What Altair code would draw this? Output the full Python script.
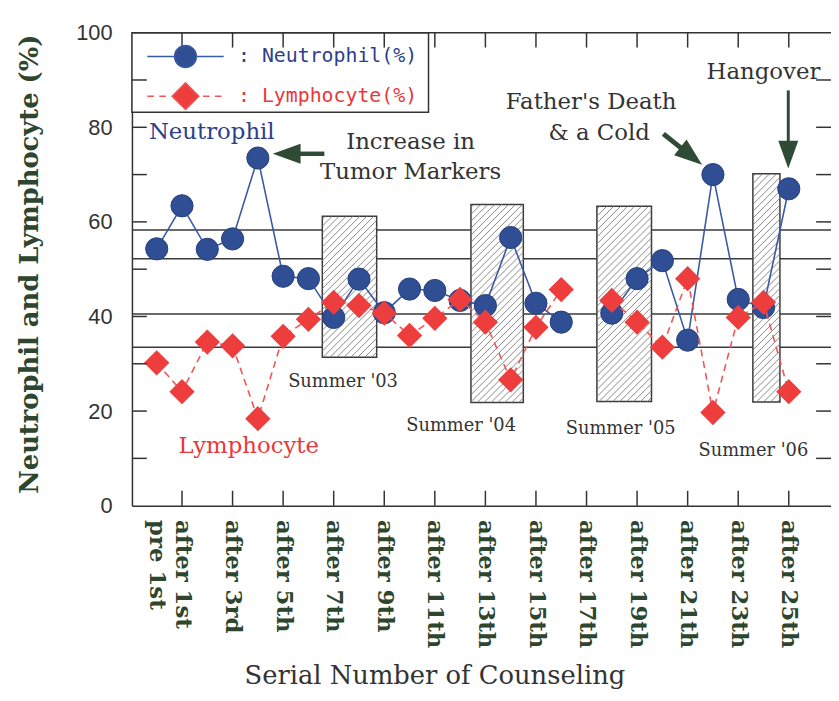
import math
import altair as alt
import pandas as pd

# ---------------- data ----------------
SESSION = list(range(26))
NEUTROPHIL = [54.3, 63.4, 54.2, 56.4, 73.5, 48.5, 48.0, 39.8, 47.9, 40.8, 45.8, 45.5, 43.4,
              42.3, 56.7, 42.8, 38.8, None, 40.7, 48.0, 51.8, 35.0, 70.0, 43.6, 41.9, 67.0]
LYMPHOCYTE = [30.2, 24.1, 34.6, 33.8, 18.4, 35.8, 39.4, 43.0, 42.3, 40.7, 36.0, 39.6, 43.6,
              38.8, 26.6, 37.7, 45.7, None, 43.4, 38.8, 33.5, 48.0, 19.7, 39.8, 43.0, 24.1]
SERIES = ["Neutrophil", "Lymphocyte"]

TICK_POS = [0, 1, 3, 5, 7, 9, 11, 13, 15, 17, 19, 21, 23, 25]
TICK_LABELS = ["pre 1st", "after 1st", "after 3rd", "after 5th", "after 7th", "after 9th",
               "after 11th", "after 13th", "after 15th", "after 17th", "after 19th",
               "after 21th", "after 23th", "after 25th"]
X_MINOR = [1, 3, 5, 7, 9, 11, 13, 15, 17, 19, 21, 23, 25]
Y_LABELS = [0, 20, 40, 60, 80, 100]
Y_MINOR = [10, 20, 30, 40, 50, 60, 70, 80, 90]
FRAME_TOP = [100]

REF_LINES = [58.3, 52.2, 40.5, 33.5]

SUMMER_START = [6.55, 12.43, 17.41, 23.58]
SUMMER_END = [8.70, 14.50, 19.57, 24.65]
SUMMER_LOW = [31.4, 21.8, 22.0, 21.9]
SUMMER_HIGH = [61.2, 63.7, 63.3, 70.2]
SUMMER_TEXT = ["Summer '03", "Summer '04", "Summer '05", "Summer '06"]
SUMMER_TEXT_X = [7.37, 12.04, 18.35, 23.6]
SUMMER_TEXT_Y = [26.2, 16.8, 16.1, 11.5]

SERIES_TEXT_X = [-0.31, 0.86]
SERIES_TEXT_Y = [79.0, 12.6]

NOTE_TEXT = ["Increase in", "Tumor Markers", "Father's Death", "& a Cold", "Hangover"]
NOTE_X = [10.04, 10.04, 17.18, 17.5, 24.0]
NOTE_Y = [76.9, 70.6, 85.3, 78.8, 91.6]

ARROW_TAIL_X = [6.63, 20.04, 24.98]
ARROW_TAIL_Y = [74.4, 78.6, 87.8]
ARROW_TIP_X = [4.59, 21.57, 24.98]
ARROW_TIP_Y = [74.4, 72.1, 71.3]
ARROW_WIDTH = [4.5, 5.0, 3.0]

LEGEND_BOX_X = [-0.98, 10.75]
LEGEND_BOX_Y = [83.2, 100]

# ---------------- layout / style ----------------
W, H = 705, 477
X_DOMAIN = [-0.98, 26.67]
XPX = W / (X_DOMAIN[1] - X_DOMAIN[0])
YPX = H / 100.0

BLUE = "#2f4e93"
BLUE_TXT = "#2c3f8c"
RED = "#ee3d3d"
GREEN = "#2d462d"
INK = "#333333"
ARROW_C = "#2f4a35"

xscale = alt.Scale(domain=X_DOMAIN, nice=False, zero=False)
yscale = alt.Scale(domain=[0, 100], nice=False, zero=False)

label_array = ["" for _ in SESSION]
for p, t in zip(TICK_POS, TICK_LABELS):
    label_array[p] = t
label_expr = "[" + ",".join("'" + t + "'" for t in label_array) + "][datum.value]"

x_axis = alt.Axis(values=TICK_POS, labelExpr=label_expr, ticks=False, tickSize=0, grid=False,
                  domainColor=INK, domainWidth=1.5, labelAngle=90, labelAlign="left",
                  labelBaseline="middle", labelPadding=14, labelFont="DejaVu Serif",
                  labelFontWeight="bold", labelFontSize=23, labelColor=GREEN,
                  labelOverlap=False, labelFlush=False, labelLimit=300,
                  title="Serial Number of Counseling", titleFont="DejaVu Serif",
                  titleFontWeight="normal", titleFontSize=26, titleColor=INK,
                  titleX=305, titleY=171, titleBaseline="middle", titleAlign="center")
y_axis = alt.Axis(values=Y_LABELS, ticks=False, tickSize=0, grid=False, domainColor=INK,
                  domainWidth=1.5, labelFont="Liberation Sans", labelFontSize=22,
                  labelColor=INK, labelPadding=20,
                  title="Neutrophil and Lymphocyte (%)", titleFont="DejaVu Serif",
                  titleFontWeight="bold", titleFontSize=26, titleColor=GREEN,
                  titleX=-103, titleY=233, titleBaseline="middle", titleAngle=270,
                  titleAlign="center", titleLimit=600)


def X(f, **kw):
    return alt.X(f, type="quantitative", scale=xscale, axis=x_axis, **kw)


def Y(f, **kw):
    return alt.Y(f, type="quantitative", scale=yscale, axis=y_axis, **kw)


series_df = pd.DataFrame({"session": SESSION, "neu": NEUTROPHIL, "lym": LYMPHOCYTE})

summer_df = pd.DataFrame({"x0": SUMMER_START, "x1": SUMMER_END,
                          "y0": SUMMER_LOW, "y1": SUMMER_HIGH})

# diagonal hatch lines derived from the summer rectangles
hatch_rows = []
for x0, x1, y0, y1 in zip(SUMMER_START, SUMMER_END, SUMMER_LOW, SUMMER_HIGH):
    X0, X1, Y0, Y1 = x0 * XPX, x1 * XPX, y0 * YPX, y1 * YPX
    c = X0 - Y1 + 3
    while c < X1 - Y0:
        s = max(X0, Y0 + c)
        e = min(X1, Y1 + c)
        if e > s:
            hatch_rows.append({"x": s / XPX, "y": (s - c) / YPX,
                               "x2": e / XPX, "y2": (e - c) / YPX})
        c += 7
hatch_df = pd.DataFrame(hatch_rows)

# arrows
arrow_rows = []
HEAD_PATH = "M0,0 L2,-0.72 L2,0.72 Z"
for tx, ty, hx, hy, w in zip(ARROW_TAIL_X, ARROW_TAIL_Y, ARROW_TIP_X, ARROW_TIP_Y, ARROW_WIDTH):
    bx = (tx - hx) * XPX
    by = -(ty - hy) * YPX
    L = math.hypot(bx, by)
    ux, uy = bx / L, by / L
    ang = math.degrees(math.atan2(by, bx)) % 360
    arrow_rows.append({"tx": tx, "ty": ty, "hx": hx, "hy": hy,
                       "sx": hx + ux * 22 / XPX, "sy": hy - uy * 22 / YPX,
                       "w": w, "angle": ang})
arrow_df = pd.DataFrame(arrow_rows)

# ---------------- layers ----------------
ref = alt.Chart(pd.DataFrame({"v": REF_LINES})).mark_rule(color="#3a3a3a", strokeWidth=1.5).encode(
    y=Y("v"))

rects = alt.Chart(summer_df).mark_rect(fill="white", stroke="#3a3a3a", strokeWidth=1.5).encode(
    x=X("x0"), x2="x1", y=Y("y0"), y2="y1")

hatch = alt.Chart(hatch_df).mark_rule(color="#7a7a7a", strokeWidth=0.9).encode(
    x=X("x"), y=Y("y"), x2="x2", y2="y2")

legend_box = alt.Chart(pd.DataFrame({"x0": [LEGEND_BOX_X[0]], "x1": [LEGEND_BOX_X[1]],
                                     "y0": [LEGEND_BOX_Y[0]], "y1": [LEGEND_BOX_Y[1]]})).mark_rect(
    fill="white", stroke=INK, strokeWidth=1.5).encode(x=X("x0"), x2="x1", y=Y("y0"), y2="y1")

neu_line = alt.Chart(series_df).mark_line(color="#3b5aa5", strokeWidth=1.6).encode(
    x=X("session"), y=Y("neu"))
neu_pts = alt.Chart(series_df).mark_point(shape="circle", filled=True, size=500, fill=BLUE,
                                          stroke="#25407c", strokeWidth=1, opacity=1).encode(
    x=X("session"), y=Y("neu"))
lym_line = alt.Chart(series_df).mark_line(color="#f25555", strokeWidth=1.6, strokeDash=[7, 5]).encode(
    x=X("session"), y=Y("lym"))
lym_pts = alt.Chart(series_df).mark_point(shape="diamond", filled=True, size=650, fill=RED,
                                          opacity=1).encode(x=X("session"), y=Y("lym"))

series_txt = alt.Chart(pd.DataFrame({"t": SERIES, "x": SERIES_TEXT_X, "y": SERIES_TEXT_Y})).mark_text(
    align="left", baseline="middle", font="DejaVu Serif", fontSize=23).encode(
    x=X("x"), y=Y("y"), text="t:N",
    color=alt.Color("t:N", scale=alt.Scale(domain=SERIES, range=[BLUE_TXT, "#e8383a"]), legend=None))

notes = alt.Chart(pd.DataFrame({"t": NOTE_TEXT, "x": NOTE_X, "y": NOTE_Y})).mark_text(
    align="center", baseline="middle", font="DejaVu Serif", fontSize=23, color=INK).encode(
    x=X("x"), y=Y("y"), text="t:N")

summer_txt = alt.Chart(pd.DataFrame({"t": SUMMER_TEXT, "x": SUMMER_TEXT_X, "y": SUMMER_TEXT_Y})).mark_text(
    align="center", baseline="middle", font="DejaVu Serif", fontSize=18, color=INK).encode(
    x=X("x"), y=Y("y"), text="t:N")

shafts = alt.Chart(arrow_df).mark_rule(color=ARROW_C).encode(
    x=X("tx"), y=Y("ty"), x2="sx", y2="sy", size=alt.Size("w:Q", scale=None, legend=None))
heads = alt.Chart(arrow_df).mark_point(shape=HEAD_PATH, filled=True, size=784, fill=ARROW_C,
                                       opacity=1, strokeWidth=0).encode(
    x=X("hx"), y=Y("hy"), angle=alt.Angle("angle:Q", scale=None))

tick_kw = dict(thickness=1.5, color=INK, opacity=1)
ticks_left = alt.Chart(pd.DataFrame({"v": Y_MINOR})).mark_tick(
    orient="horizontal", size=15, xOffset=7.5, **tick_kw).encode(x=alt.value(0), y=Y("v"))
ticks_right = alt.Chart(pd.DataFrame({"v": Y_MINOR})).mark_tick(
    orient="horizontal", size=15, xOffset=-7.5, **tick_kw).encode(x=alt.value(W), y=Y("v"))
ticks_top = alt.Chart(pd.DataFrame({"v": X_MINOR})).mark_tick(
    orient="vertical", size=15, yOffset=7.5, **tick_kw).encode(x=X("v"), y=alt.value(0))
ticks_bottom = alt.Chart(pd.DataFrame({"v": X_MINOR})).mark_tick(
    orient="vertical", size=15, yOffset=-7.5, **tick_kw).encode(x=X("v"), y=alt.value(H))
frame_top = alt.Chart(pd.DataFrame({"v": FRAME_TOP})).mark_rule(color=INK, strokeWidth=1.5).encode(
    y=Y("v"))

# legend (real Vega-Lite legend with custom symbols)
NEU_SYMBOL = "M-3.5,0 L-1,0 M1,0 L3.5,0 M1,0 A1,1 0 1,1 -1,0 A1,1 0 1,1 1,0 Z"
LYM_SYMBOL = ("M-3.5,0 L-2.9,0 M-2.4,0 L-1.8,0 M1.6,0 L2.2,0 M2.7,0 L3.3,0 "
              "M0,-1.23 L1.23,0 L0,1.23 L-1.23,0 Z")
leg = alt.Legend(title=None, orient="none", legendX=42, legendY=12, padding=0,
                 symbolSize=484, symbolStrokeWidth=1.5, labelOffset=41, rowPadding=9,
                 labelFont="DejaVu Sans Mono", labelFontSize=20, labelLimit=400,
                 labelExpr="': ' + datum.label + '(%)'",
                 labelColor={"expr": "datum.value == 'Neutrophil' ? '#2c3f8c' : '#e8383a'"},
                 direction="vertical")
legend_layer = alt.Chart(pd.DataFrame({"series": SERIES})).transform_filter("false").mark_point(
    filled=True, opacity=1, strokeWidth=1.5).encode(
    fill=alt.Fill("series:N", scale=alt.Scale(domain=SERIES, range=[BLUE, RED]), legend=leg),
    stroke=alt.Stroke("series:N", scale=alt.Scale(domain=SERIES, range=["#3b5aa5", "#f25555"]), legend=leg),
    shape=alt.Shape("series:N", scale=alt.Scale(domain=SERIES, range=[NEU_SYMBOL, LYM_SYMBOL]), legend=leg))

chart = alt.layer(
    ref, rects, hatch, legend_box, neu_line, neu_pts, lym_line, lym_pts,
    series_txt, notes, summer_txt, shafts, heads,
    ticks_left, ticks_right, ticks_top, ticks_bottom, frame_top, legend_layer
).resolve_scale(color="independent").properties(
    width=W, height=H,
    padding={"left": 125, "top": 22, "right": 0, "bottom": 184},
    autosize=alt.AutoSizeParams(type="none"),
    background="white",
).configure_view(stroke=None)

chart.save("out.html", embed_options={"renderer": "svg", "actions": False})
